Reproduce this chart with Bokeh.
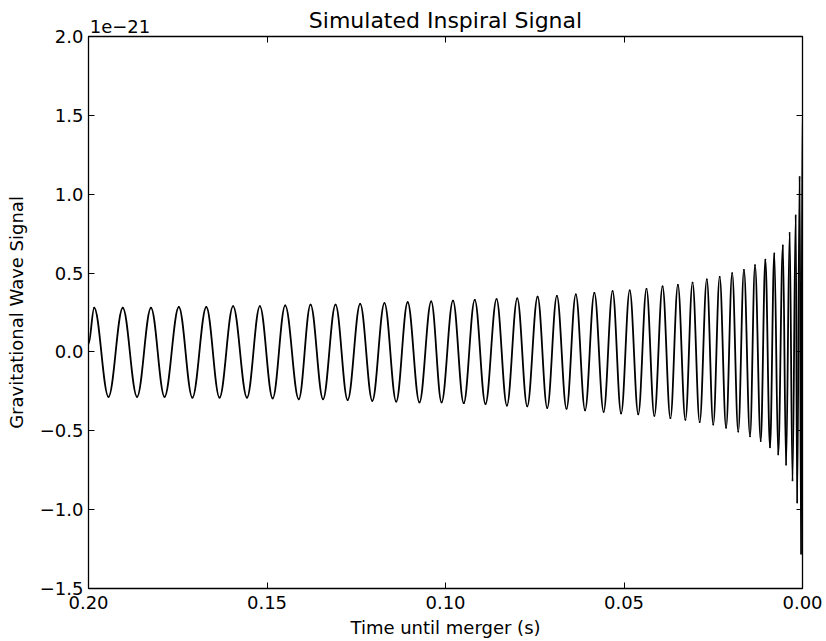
import math
from bokeh.plotting import figure
from bokeh.models import (ColumnDataSource, Range1d, FixedTicker, LinearAxis,
                          CustomJSTickFormatter)
from bokeh.embed import file_html
from bokeh.resources import INLINE

# ---- data (strain in units of 1e-21) ----
title_text = "Simulated Inspiral Signal"
x_label = "Time until merger (s)"
y_label = "Gravitational Wave Signal"
offset_text = "1e\u221221"

x_ticks = [0.20, 0.15, 0.10, 0.05, 0.00]
y_ticks = [-1.5, -1.0, -0.5, 0.0, 0.5, 1.0, 1.5, 2.0]

start_time = 0.200
start_strain = 0.05
end_time = 0.000
end_strain = 1.57

peak_time = [0.1984, 0.1904, 0.1825, 0.1747, 0.1670, 0.1595, 0.1520, 0.1449,
             0.1378, 0.1308, 0.1239, 0.1171, 0.1106, 0.1040, 0.0979, 0.0918,
             0.0857, 0.0799, 0.0742, 0.0688, 0.0635, 0.0583, 0.0532, 0.0484,
             0.0437, 0.0392, 0.0349, 0.0308, 0.0268, 0.0232, 0.0197, 0.0164,
             0.0133, 0.0104, 0.0079, 0.0055, 0.0036, 0.0019, 0.0008]
peak_strain = [0.28, 0.28, 0.28, 0.285, 0.285, 0.29, 0.29, 0.295,
               0.30, 0.30, 0.305, 0.31, 0.315, 0.32, 0.325, 0.33,
               0.335, 0.34, 0.35, 0.355, 0.365, 0.375, 0.385, 0.39,
               0.40, 0.415, 0.425, 0.44, 0.46, 0.475, 0.50, 0.52,
               0.55, 0.585, 0.625, 0.675, 0.755, 0.865, 1.11]

trough_time = [0.1944, 0.1864, 0.1787, 0.1709, 0.1633, 0.1556, 0.1484, 0.1411,
               0.1343, 0.1274, 0.1205, 0.1138, 0.1073, 0.1011, 0.0949, 0.0888,
               0.0828, 0.0771, 0.0715, 0.0661, 0.0609, 0.0557, 0.0508, 0.0460,
               0.0415, 0.0370, 0.0328, 0.0288, 0.0250, 0.0214, 0.0180, 0.0147,
               0.0117, 0.0091, 0.0068, 0.0046, 0.0028, 0.0015, 0.0004]
trough_strain = [-0.285, -0.285, -0.285, -0.29, -0.29, -0.29, -0.295, -0.30,
                 -0.30, -0.305, -0.31, -0.315, -0.32, -0.32, -0.325, -0.33,
                 -0.34, -0.345, -0.355, -0.36, -0.37, -0.38, -0.39, -0.395,
                 -0.405, -0.42, -0.43, -0.445, -0.46, -0.48, -0.505, -0.535,
                 -0.565, -0.605, -0.65, -0.715, -0.815, -0.955, -1.28]

# ---- build the waveform as smooth segments between the read extrema ----
nodes = [(start_time, start_strain)]
for pt, ps, tt, ts in zip(peak_time, peak_strain, trough_time, trough_strain):
    nodes.append((pt, ps))
    nodes.append((tt, ts))
nodes.append((end_time, end_strain))
nodes.sort(key=lambda n: -n[0])

k = 1.0 - 2.0 / math.pi  # cubic handle fraction approximating a half cosine
seg = dict(x0=[], y0=[], x1=[], y1=[], cx0=[], cy0=[], cx1=[], cy1=[])
for (xa, ya), (xb, yb) in zip(nodes[:-1], nodes[1:]):
    d = xb - xa
    seg["x0"].append(xa); seg["y0"].append(ya)
    seg["x1"].append(xb); seg["y1"].append(yb)
    seg["cx0"].append(xa + k * d); seg["cy0"].append(ya)
    seg["cx1"].append(xb - k * d); seg["cy1"].append(yb)
src = ColumnDataSource(seg)

FONT = "DejaVu Sans"
FS = "18px"

p = figure(width=826, height=641, output_backend="svg", toolbar_location=None,
           x_range=Range1d(0.20, 0.00), y_range=Range1d(-1.5, 2.0),
           min_border_left=88, min_border_right=24,
           min_border_top=36, min_border_bottom=53)
p.title.visible = False
p.background_fill_color = "white"
p.border_fill_color = "white"
p.outline_line_color = "black"
p.outline_line_width = 1.3
p.grid.visible = False

p.bezier(x0="x0", y0="y0", x1="x1", y1="y1", cx0="cx0", cy0="cy0",
         cx1="cx1", cy1="cy1", source=src, line_color="black",
         line_width=1.8, line_cap="round")

xfmt = CustomJSTickFormatter(code="return tick.toFixed(2);")
yfmt = CustomJSTickFormatter(
    code="return (tick < 0 ? '\\u2212' : '') + Math.abs(tick).toFixed(1);")
blank = CustomJSTickFormatter(code="return '';")
# top axis: only the first tick carries the matplotlib-style offset text;
# axis tick labels are centred, so pad on the left (non-breaking spaces) so
# that the visible text starts at the left edge of the frame
offset_fmt = CustomJSTickFormatter(
    args=dict(first=x_ticks[0], txt="\u00a0" * 11 + offset_text),
    code="return (Math.abs(tick - first) < 1e-9) ? txt : '';")


def style(ax, labels=True):
    ax.axis_line_color = None
    ax.major_tick_in = 6
    ax.major_tick_out = 0
    ax.minor_tick_line_color = None
    ax.major_tick_line_color = "black"
    ax.major_tick_line_width = 1
    ax.major_label_text_font = FONT
    ax.major_label_text_font_size = FS if labels else "0px"
    ax.major_label_text_color = "black"
    ax.axis_label_text_font = FONT
    ax.axis_label_text_font_size = FS
    ax.axis_label_text_font_style = "normal"
    ax.axis_label_text_color = "black"


xa = p.xaxis[0]
xa.ticker = FixedTicker(ticks=x_ticks)
xa.formatter = xfmt
xa.axis_label = x_label
style(xa)
xa.major_label_standoff = 7
xa.axis_label_standoff = 5

ya = p.yaxis[0]
ya.ticker = FixedTicker(ticks=y_ticks)
ya.formatter = yfmt
ya.axis_label = y_label
style(ya)
ya.major_label_standoff = 5
ya.axis_label_standoff = 10

top = LinearAxis(ticker=FixedTicker(ticks=x_ticks), formatter=offset_fmt)
style(top)
top.major_label_standoff = 0
top.axis_label = title_text
top.axis_label_text_font_size = "22px"
top.axis_label_standoff = -20
p.add_layout(top, "above")

right = LinearAxis(ticker=FixedTicker(ticks=y_ticks), formatter=blank)
style(right, labels=False)
right.major_label_standoff = 0
p.add_layout(right, "right")

open("out.html", "w").write(file_html(p, INLINE))
